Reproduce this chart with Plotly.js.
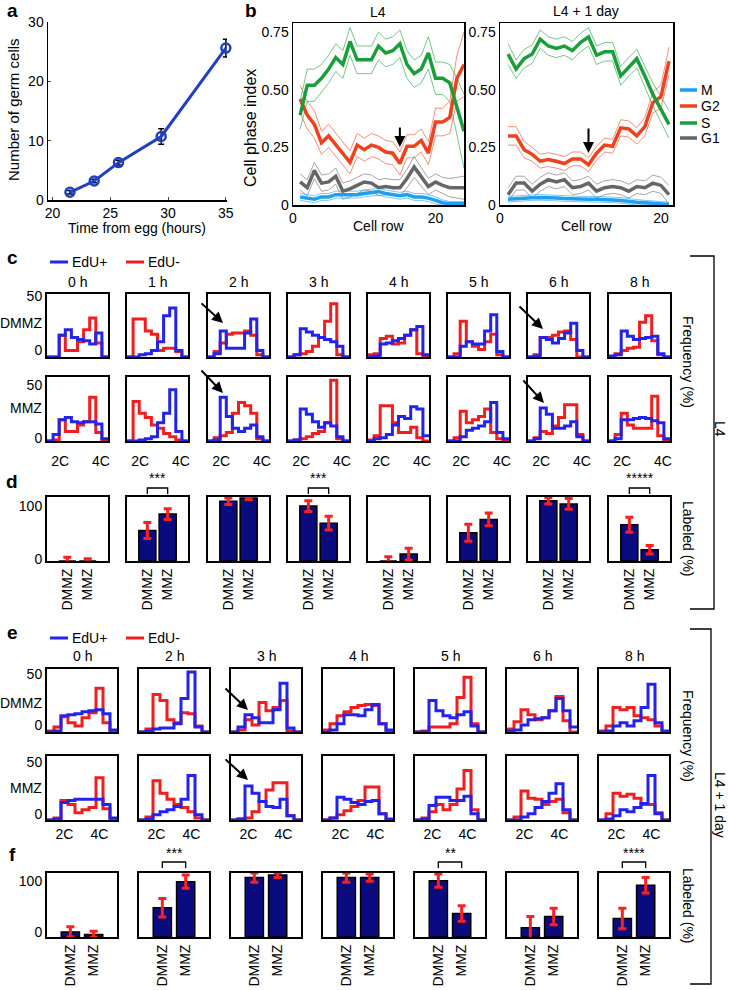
<!DOCTYPE html>
<html><head><meta charset="utf-8">
<script src="https://cdn.plot.ly/plotly-3.0.1.min.js"></script>
<style>html,body{margin:0;padding:0;background:#fff}#chart{width:729px;height:990px}</style>
</head><body><div id="chart"></div>
<script>
// ---------- Panel a ----------
const aTime = [21.5, 23.6, 25.7, 29.4, 35];
const aCells = [1.3, 3.2, 6.3, 10.7, 25.6];
const aErr = [0.3, 0.3, 0.4, 1.3, 1.5];

// ---------- Panel b ----------
const rowsL4 = [1,2,3,4,5,6,7,8,9,10,11,12,13,14,15,16,17,18,19,20,21,22,23,24];
const mL4  = [0.035,0.03,0.025,0.035,0.035,0.045,0.045,0.045,0.045,0.05,0.055,0.058,0.05,0.045,0.04,0.045,0.035,0.035,0.03,0.02,0.01,0.005,0.005,0.005];
const g2L4 = [0.46,0.39,0.35,0.27,0.30,0.26,0.22,0.185,0.26,0.24,0.26,0.25,0.23,0.225,0.18,0.255,0.255,0.28,0.225,0.36,0.36,0.38,0.55,0.61];
const sL4  = [0.39,0.52,0.52,0.55,0.59,0.64,0.61,0.71,0.63,0.63,0.63,0.69,0.66,0.67,0.70,0.61,0.57,0.59,0.66,0.55,0.55,0.53,0.43,0.32];
const g1L4 = [0.10,0.075,0.15,0.095,0.10,0.125,0.06,0.07,0.085,0.10,0.095,0.075,0.08,0.075,0.075,0.115,0.165,0.125,0.08,0.10,0.085,0.075,0.075,0.075];
const mErrL4  = [0.015,0.015,0.015,0.015,0.015,0.015,0.015,0.015,0.015,0.015,0.015,0.015,0.015,0.015,0.015,0.015,0.015,0.015,0.015,0.015,0.012,0.01,0.01,0.01];
const g2ErrL4 = [0.06,0.06,0.06,0.05,0.05,0.05,0.05,0.05,0.05,0.05,0.05,0.05,0.05,0.05,0.05,0.05,0.05,0.05,0.05,0.06,0.06,0.07,0.10,0.14];
const sErrL4  = [0.06,0.07,0.07,0.06,0.06,0.06,0.06,0.06,0.06,0.06,0.06,0.06,0.06,0.06,0.06,0.06,0.06,0.06,0.07,0.07,0.07,0.08,0.12,0.16];
const g1ErrL4 = [0.035,0.035,0.035,0.035,0.035,0.035,0.035,0.035,0.035,0.035,0.035,0.035,0.035,0.035,0.035,0.04,0.045,0.04,0.035,0.035,0.035,0.04,0.045,0.05];

const rowsL4d = [1,2,3,4,5,6,7,8,9,10,11,12,13,14,15,16,17,18,19,20,21];
const mL4d  = [0.025,0.028,0.03,0.032,0.033,0.033,0.03,0.028,0.026,0.025,0.025,0.025,0.025,0.022,0.02,0.015,0.012,0.01,0.008,0.005,0.002];
const g2L4d = [0.30,0.30,0.24,0.22,0.19,0.197,0.19,0.18,0.20,0.20,0.175,0.225,0.26,0.255,0.335,0.33,0.30,0.34,0.445,0.47,0.625];
const sL4d  = [0.655,0.59,0.635,0.655,0.72,0.69,0.68,0.69,0.67,0.705,0.73,0.65,0.665,0.665,0.56,0.60,0.635,0.56,0.48,0.415,0.35];
const g1L4d = [0.045,0.095,0.095,0.06,0.09,0.11,0.10,0.11,0.075,0.08,0.095,0.06,0.075,0.08,0.075,0.06,0.08,0.075,0.095,0.085,0.045];
const mErrL4d  = [0.012,0.012,0.012,0.012,0.012,0.012,0.012,0.012,0.012,0.012,0.012,0.012,0.012,0.012,0.012,0.012,0.012,0.01,0.01,0.01,0.01];
const g2ErrL4d = [0.04,0.04,0.035,0.03,0.03,0.03,0.03,0.03,0.03,0.03,0.03,0.03,0.03,0.03,0.035,0.035,0.035,0.04,0.045,0.05,0.06];
const sErrL4d  = [0.045,0.04,0.04,0.04,0.04,0.04,0.04,0.04,0.04,0.04,0.04,0.04,0.04,0.04,0.04,0.04,0.04,0.045,0.05,0.055,0.06];
const g1ErrL4d = [0.03,0.03,0.03,0.03,0.03,0.03,0.03,0.03,0.03,0.03,0.03,0.03,0.03,0.03,0.03,0.03,0.03,0.03,0.035,0.035,0.04];
const phaseNames = ['M','G2','S','G1'];

// ---------- Panels c & e (histograms, % per bin) ----------
const cEdges = [1.35,1.65,1.95,2.25,2.55,2.85,3.15,3.45,3.75,4.05,4.35];
const cTimes = ['0 h','1 h','2 h','3 h','4 h','5 h','6 h','8 h'];
const cDmmzPos = [[0,0,20,25,18,16,15,12,22,0],[0,0,2,3,6,14,38,45,6,0],[0,3,24,8,8,8,22,35,6,0],[0,2,26,23,20,18,16,14,10,0],[0,1,12,13,15,17,20,25,28,2],[0,0,10,14,12,12,24,39,5,0],[0,1,18,16,13,17,22,31,6,0],[1,2,24,19,16,17,18,19,3,0]];
const cDmmzNeg = [[0,0,20,6,6,14,25,36,13,0],[0,35,35,24,21,6,8,8,5,0],[0,5,13,21,22,22,24,20,2,0],[0,2,3,5,10,18,33,49,2,0],[2,3,17,19,12,13,20,25,3,0],[0,3,33,14,10,7,14,21,2,0],[0,2,18,18,20,23,24,16,0,0],[0,3,6,8,9,32,38,15,2,0]];
const cMmzPos  = [[0,6,20,22,18,17,18,18,16,2],[0,0,1,2,4,17,26,48,9,0],[0,1,41,23,12,9,12,15,4,0],[0,1,30,25,18,13,17,14,4,0],[0,2,3,6,15,23,21,32,30,5],[0,0,4,10,12,14,18,36,8,2],[0,2,31,25,12,12,14,18,4,0],[0,2,20,20,21,22,21,19,17,2]];
const cMmzNeg  = [[0,1,20,9,9,15,18,41,8,0],[0,37,26,22,15,12,7,4,1,0],[0,3,5,8,26,36,33,26,2,0],[0,1,2,4,7,9,17,57,2,0],[1,5,33,33,17,8,8,13,3,0],[0,3,28,17,20,23,30,8,2,0],[0,3,9,7,14,22,34,34,6,0],[0,6,26,15,12,12,12,42,5,0]];

const eEdges = [1.0,1.4,1.8,2.2,2.6,3.0,3.4,3.8,4.2,4.6,5.0];
const eTimes = ['0 h','2 h','3 h','4 h','5 h','6 h','8 h'];
const eDmmzPos = [[0,1,16,17,18,20,21,22,18,2],[0,1,3,4,4,8,33,59,5,0],[0,5,17,14,9,9,22,48,4,0],[0,2,8,17,17,16,22,27,8,2],[0,0,31,21,16,14,17,20,6,0],[1,2,7,12,13,14,21,33,21,5],[0,1,6,9,6,11,24,47,9,1]];
const eDmmzNeg = [[1,5,15,9,6,14,19,43,9,1],[0,3,37,31,12,9,19,18,6,0],[0,2,12,7,29,21,24,31,1,0],[2,8,16,20,24,26,27,26,8,1],[0,1,5,5,5,8,34,54,8,0],[3,10,22,17,12,14,21,35,11,0],[1,6,24,22,24,16,14,12,6,0]];
const eMmzPos  = [[0,1,17,19,20,20,20,20,15,2],[0,1,5,8,10,13,20,43,5,0],[0,1,33,26,18,13,12,20,4,0],[0,2,22,20,17,15,18,19,6,1],[0,1,14,22,22,19,19,23,6,0],[0,0,3,6,12,18,26,35,10,0],[0,1,4,10,8,12,16,43,6,0]];
const eMmzNeg  = [[0,2,19,15,7,10,12,41,11,1],[0,3,38,26,20,15,12,8,2,0],[0,1,2,8,18,29,36,36,4,0],[0,2,5,9,13,19,32,32,6,0],[0,2,8,15,10,15,30,48,10,0],[0,3,28,21,20,15,18,20,7,0],[0,6,26,23,25,21,15,15,7,0]];

// ---------- Panels d & f (labeled %) ----------
const zoneCats = ['DMMZ','MMZ'];
const dDmmz = [0, 57, 112, 103, 0, 53, 113, 68];
const dDmmzErr = [7, 15, 6, 10, 8, 16, 6, 14];
const dMmz = [0, 88, 118, 71, 13, 78, 107, 21];
const dMmzErr = [4, 10, 3, 13, 11, 12, 10, 8];
const dSig = ['', '***', '', '***', '', '', '', '*****'];
const fDmmz = [10, 57, 116, 116, 110, 18, 36];
const fDmmzErr = [10, 18, 9, 9, 13, 22, 20];
const fMmz = [5, 108, 121, 116, 46, 40, 101];
const fMmzErr = [6, 13, 5, 7, 15, 16, 15];
const fSig = ['', '***', '', '', '**', '', '****'];

// ---------- layout helpers ----------
const W = 729, H = 990;
const FONT = 'Liberation Sans, Arial, Helvetica, sans-serif';
const BLUE = '#2323ee', RED = '#f01e1e', NAVY = '#0b0b80', ERR = '#ff1f1f';
const phaseColors = ['#1e9ff0', '#f0401e', '#1a9e3a', '#666666'];
const layout = {width: W, height: H, margin: {l:0, r:0, t:0, b:0}, showlegend: false,
  paper_bgcolor: '#fff', plot_bgcolor: 'rgba(0,0,0,0)', font: {family: FONT, size: 14, color: '#000'},
  annotations: [], shapes: []};
const traces = [];
let axN = 0;
const px = x => x / W, py = y => 1 - y / H;
function addAxes(x0, x1, y0, y1, xo, yo) {
  axN++; const k = axN === 1 ? '' : String(axN);
  layout['xaxis' + k] = Object.assign({domain: [px(x0), px(x1)], anchor: 'y' + k}, xo);
  layout['yaxis' + k] = Object.assign({domain: [py(y1), py(y0)], anchor: 'x' + k}, yo);
  return {x: 'x' + k, y: 'y' + k};
}
function boxAxis(extra) {
  return Object.assign({showline: true, mirror: true, linecolor: '#000', linewidth: 2, showgrid: false,
    zeroline: false, ticks: '', fixedrange: true, tickfont: {size: 14}}, extra);
}
function text(t, x, y, o) {
  layout.annotations.push(Object.assign({text: t, x: px(x), y: py(y), xref: 'paper', yref: 'paper',
    showarrow: false, xanchor: 'center', yanchor: 'middle', font: {size: 14}}, o || {}));
}
function arrow(x, y, ax, ay) {
  layout.annotations.push({text: '', x: px(x), y: py(y), xref: 'paper', yref: 'paper', showarrow: true,
    ax: ax, ay: ay, arrowhead: 2, arrowsize: 1.1, arrowwidth: 2, arrowcolor: '#000', standoff: 0});
}
function line(x0, y0, x1, y1, color, w) {
  layout.shapes.push({type: 'line', xref: 'paper', yref: 'paper', x0: px(x0), y0: py(y0), x1: px(x1), y1: py(y1),
    line: {color: color, width: w}});
}
function path(pts, w) {
  const d = pts.map((p, i) => (i ? 'L' : 'M') + px(p[0]).toFixed(5) + ',' + py(p[1]).toFixed(5)).join(' ');
  layout.shapes.push({type: 'path', xref: 'paper', yref: 'paper', path: d, line: {color: '#000', width: w}});
}
function stairs(edges, vals, ax, color) {
  return {type: 'scatter', mode: 'lines', x: edges, y: vals.concat([vals[vals.length - 1]]),
    xaxis: ax.x, yaxis: ax.y, line: {shape: 'hv', color: color, width: 3}, hoverinfo: 'skip'};
}

// ---------- Panel a ----------
const A = addAxes(48, 227, 22, 200,
  {range: [19.6, 35.1], tickvals: [20, 25, 30, 35], showline: true, linecolor: '#000', linewidth: 1.5,
   showgrid: false, zeroline: false, ticks: 'inside', ticklen: 3, tickfont: {size: 14}, ticklabelstandoff: 0},
  {range: [0, 30], tickvals: [0, 10, 20, 30], showline: true, linecolor: '#000', linewidth: 1.5,
   showgrid: false, zeroline: false, ticks: 'inside', ticklen: 3, tickfont: {size: 14}});
traces.push({type: 'scatter', mode: 'lines+markers', x: aTime, y: aCells, xaxis: A.x, yaxis: A.y,
  line: {color: '#1f3fc4', width: 3}, marker: {symbol: 'circle-open', size: 9, line: {width: 2.5, color: '#1f3fc4'}},
  error_y: {type: 'data', array: aErr, color: '#000', thickness: 1.5, width: 3}, cliponaxis: false});
text('Number of germ cells', 13, 110, {textangle: -90, font: {size: 15}});
text('Time from egg (hours)', 137, 228);
text('<b>a</b>', 12, 11, {font: {size: 19}});

// ---------- Panel b ----------
const yB = {range: [0, 0.79], tickvals: [0, 0.25, 0.5, 0.75], ticktext: ['0', '0.25', '0.50', '0.75'], linewidth: 1.5};
const B1 = addAxes(293, 464, 23, 205, boxAxis({range: [0, 24], tickvals: [0, 20], linewidth: 1.5}), boxAxis(yB));
const B2 = addAxes(500, 673, 23, 205, boxAxis({range: [0, 21.5], tickvals: [0, 20], linewidth: 1.5}), boxAxis(yB));
function phaseTraces(ax, rows, means, errs) {
  const order = [3, 0, 1, 2];
  order.forEach(p => {
    const up = means[p].map((v, i) => v + errs[p][i]);
    const lo = means[p].map((v, i) => Math.max(0, v - errs[p][i]));
    [up, lo].forEach(b => traces.push({type: 'scatter', mode: 'lines', x: rows, y: b, xaxis: ax.x, yaxis: ax.y,
      line: {color: phaseColors[p], width: 0.8}, opacity: 0.75, hoverinfo: 'skip'}));
  });
  order.forEach(p => traces.push({type: 'scatter', mode: 'lines', x: rows, y: means[p], xaxis: ax.x, yaxis: ax.y,
    line: {color: phaseColors[p], width: 3.5}, name: phaseNames[p]}));
}
phaseTraces(B1, rowsL4, [mL4, g2L4, sL4, g1L4], [mErrL4, g2ErrL4, sErrL4, g1ErrL4]);
phaseTraces(B2, rowsL4d, [mL4d, g2L4d, sL4d, g1L4d], [mErrL4d, g2ErrL4d, sErrL4d, g1ErrL4d]);
text('Cell phase index', 251, 128, {textangle: -90, font: {size: 16}});
text('Cell row', 378, 226); text('Cell row', 586, 226);
text('L4', 378, 12); text('L4 + 1 day', 586, 11);
text('<b>b</b>', 251, 11, {font: {size: 19}});
layout.annotations.push({text: '', x: 15, y: 0.252, xref: B1.x, yref: B1.y, showarrow: true, ax: 0, ay: -21,
  arrowhead: 2, arrowsize: 1.1, arrowwidth: 2, arrowcolor: '#000', standoff: 0});
layout.annotations.push({text: '', x: 11, y: 0.226, xref: B2.x, yref: B2.y, showarrow: true, ax: 0, ay: -26,
  arrowhead: 2, arrowsize: 1.1, arrowwidth: 2, arrowcolor: '#000', standoff: 0});
const legY = [90, 106, 123, 138];
phaseNames.forEach((n, p) => { line(680, legY[p], 697, legY[p], phaseColors[p], 3.5); text(n, 699, legY[p], {xanchor: 'left'}); });

// ---------- Panel c ----------
const cLeft = [47, 127, 208, 288, 368, 448, 528, 609], cW = 61;
const cRows = [[294, 357], [377, 441]], cYmax = [58, 60], cShift = [-7, -3];
for (let i = 0; i < 8; i++) {
  for (let r = 0; r < 2; r++) {
    const ax = addAxes(cLeft[i], cLeft[i] + cW, cRows[r][0], cRows[r][1],
      boxAxis({range: [1.35, 4.35], tickvals: [2, 4], ticktext: ['2C', '4C'], showticklabels: r === 1, layer: 'below traces', ticklabelstandoff: 6}),
      boxAxis({range: [0, cYmax[r]], tickvals: [0, 50], showticklabels: i === 0, ticklabelshift: cShift[r], layer: 'below traces'}));
    traces.push(stairs(cEdges, (r ? cMmzNeg : cDmmzNeg)[i], ax, RED));
    traces.push(stairs(cEdges, (r ? cMmzPos : cDmmzPos)[i], ax, BLUE));
  }
  text(cTimes[i], cLeft[i] + cW / 2, 282);
}
text('DMMZ', 44, 323, {xanchor: 'right'}); text('MMZ', 44, 408, {xanchor: 'right'});
text('<b>c</b>', 12, 257, {font: {size: 19}});
line(50, 262, 68, 262, BLUE, 3); text('EdU+', 70, 262, {xanchor: 'left'});
line(126, 262, 144, 262, RED, 3); text('EdU-', 146, 262, {xanchor: 'left'});
arrow(223, 323, -23, -21); arrow(223, 393, -23, -24);
arrow(543, 329, -25, -24); arrow(544, 403, -22, -24);

// ---------- Panel d ----------
function barPanel(left, w, top, bot, ymax, shift, first, vals, errs, bw) {
  const ax = addAxes(left, left + w, top, bot,
    boxAxis({type: 'category', categoryorder: 'array', categoryarray: zoneCats, range: [-1, 2], tickangle: -90}),
    boxAxis({range: [0, ymax], tickvals: [0, 100], showticklabels: first, ticklabelshift: shift}));
  traces.push({type: 'bar', x: zoneCats, y: vals, width: bw, xaxis: ax.x, yaxis: ax.y,
    marker: {color: NAVY, line: {color: '#000', width: 1.5}},
    error_y: {type: 'data', array: errs, color: ERR, thickness: 3, width: 4}});
}
function sig(left, w, s, lineY, textY) {
  if (!s) return;
  const x0 = left + w / 3, x1 = left + 2 * w / 3;
  path([[x0, lineY + 6], [x0, lineY], [x1, lineY], [x1, lineY + 6]], 1.3);
  text(s, (x0 + x1) / 2, textY);
}
for (let i = 0; i < 8; i++) {
  barPanel(cLeft[i], cW, 497, 561, 120, -2, i === 0, [dDmmz[i], dMmz[i]], [dDmmzErr[i], dMmzErr[i]], 0.84);
  sig(cLeft[i], cW, dSig[i], 488, 478);
}
text('<b>d</b>', 12, 481, {font: {size: 19}});

// ---------- Panel e ----------
const eLeft = [47, 139, 231, 323, 415, 507, 599], eW = 70;
const eRows = [[669, 732], [756, 820]], eShift = [-7, -6];
for (let i = 0; i < 7; i++) {
  for (let r = 0; r < 2; r++) {
    const ax = addAxes(eLeft[i], eLeft[i] + eW, eRows[r][0], eRows[r][1],
      boxAxis({range: [1.0, 5.0], tickvals: [2, 4], ticktext: ['2C', '4C'], showticklabels: r === 1, layer: 'below traces'}),
      boxAxis({range: [0, 62], tickvals: [0, 50], showticklabels: i === 0, ticklabelshift: eShift[r], layer: 'below traces'}));
    traces.push(stairs(eEdges, (r ? eMmzNeg : eDmmzNeg)[i], ax, RED));
    traces.push(stairs(eEdges, (r ? eMmzPos : eDmmzPos)[i], ax, BLUE));
  }
  text(eTimes[i], eLeft[i] + eW / 2, 656);
}
text('DMMZ', 44, 703, {xanchor: 'right'}); text('MMZ', 44, 788, {xanchor: 'right'});
text('<b>e</b>', 12, 632, {font: {size: 19}});
line(50, 638, 68, 638, BLUE, 3); text('EdU+', 70, 638, {xanchor: 'left'});
line(126, 638, 144, 638, RED, 3); text('EdU-', 146, 638, {xanchor: 'left'});
arrow(248, 710, -24, -23); arrow(248, 780, -24, -22);

// ---------- Panel f ----------
for (let i = 0; i < 7; i++) {
  barPanel(eLeft[i], eW, 873, 937, 125, -5, i === 0, [fDmmz[i], fMmz[i]], [fDmmzErr[i], fMmzErr[i]], 0.78);
  sig(eLeft[i], eW, fSig[i], 862, 853);
}
text('<b>f</b>', 12, 854, {font: {size: 19}});

// ---------- right side labels and brackets ----------
text('Frequency (%)', 688, 362, {textangle: 90});
text('Labeled (%)', 688, 539, {textangle: 90});
text('Frequency (%)', 688, 736, {textangle: 90});
text('Labeled (%)', 688, 906, {textangle: 90});
path([[690, 256], [714, 256], [714, 609], [690, 609]], 1.3);
text('L4', 720, 429, {textangle: 90});
path([[690, 629], [711, 629], [711, 984], [690, 984]], 1.3);
text('L4 + 1 day', 720, 805, {textangle: 90});

Plotly.newPlot('chart', traces, layout, {displayModeBar: false, staticPlot: true});
</script></body></html>
